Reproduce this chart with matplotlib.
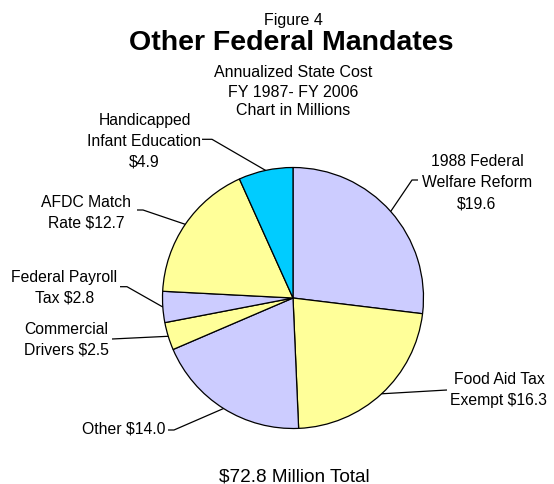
import matplotlib
matplotlib.use("Agg")
import matplotlib.pyplot as plt
import numpy as np

# Annualized state cost of other federal mandates, FY 1987 - FY 2006 ($ millions)
names = [
    "1988 Federal\nWelfare Reform\n",
    "Food Aid Tax\nExempt ",
    "Other ",
    "Commercial\nDrivers ",
    "Federal Payroll\nTax ",
    "AFDC Match\nRate ",
    "Handicapped\nInfant Education\n",
]
values = [19.6, 16.3, 14.0, 2.5, 2.8, 12.7, 4.9]
colors = ["#CCCCFF", "#FFFF99", "#CCCCFF", "#FFFF99", "#CCCCFF", "#FFFF99", "#00CCFF"]

W, H = 554, 484
plt.rcParams["font.family"] = ["Liberation Sans", "DejaVu Sans"]

fig = plt.figure(figsize=(W / 100, H / 100), dpi=100)
ax = fig.add_axes([0, 0, 1, 1])


def fy(y):
    """Convert a top-down pixel row to the axes' upward y."""
    return H - y


cx, cy, r = 293, fy(298), 130.5
wedges, _ = ax.pie(values, colors=colors, startangle=90, counterclock=False,
                   center=(cx, cy), radius=r,
                   wedgeprops=dict(edgecolor="black", linewidth=0.9),
                   frame=True)
ax.set_xlim(0, W)
ax.set_ylim(0, H)
ax.set_aspect("equal")
ax.axis("off")

# Titles
ax.text(293, fy(25), "Figure 4", ha="center", va="baseline", fontsize=11.5)
ax.text(291, fy(50), "Other Federal Mandates", ha="center", va="baseline",
        fontsize=20.5, fontweight="bold")
for line, base in zip(["Annualized State Cost", "FY 1987- FY 2006", "Chart in Millions"],
                      [77.3, 96.7, 115]):
    ax.text(293, fy(base), line, ha="center", va="baseline", fontsize=11.5)
ax.text(294, fy(481.5), "$72.8 Million Total", ha="center", va="baseline", fontsize=13.7)

# Label layout: text x, alignment, first baseline, leader start, leader elbow
layout = [
    (477, "center", 166.5, (418, 180), (412, 180)),
    (499, "center", 384.3, (447, 390), (447, 390)),
    (166, "right", 433.3, (168, 430), (174, 430)),
    (66, "center", 334.0, (112, 339), (112, 339)),
    (64.5, "center", 281.7, (120, 286.7), (127, 286.7)),
    (86, "center", 206.7, (137, 210), (143, 210)),
    (144.5, "center", 125.0, (202, 139.3), (212, 139.3)),
]
pitch = 20.8

for name, val, wedge, (tx, ha, base, start, elbow) in zip(names, values, wedges, layout):
    text = name + f"${val:.1f}"
    for i, line in enumerate(text.split("\n")):
        ax.text(tx, fy(base + i * pitch), line, ha=ha, va="baseline", fontsize=11.3)
    mid = np.deg2rad((wedge.theta1 + wedge.theta2) / 2)
    ex, ey = cx + r * np.cos(mid), cy + r * np.sin(mid)
    ax.plot([start[0], elbow[0], ex], [fy(start[1]), fy(elbow[1]), ey],
            color="black", lw=0.9, solid_capstyle="butt")

fig.savefig("out.png", dpi=100, facecolor="white")
